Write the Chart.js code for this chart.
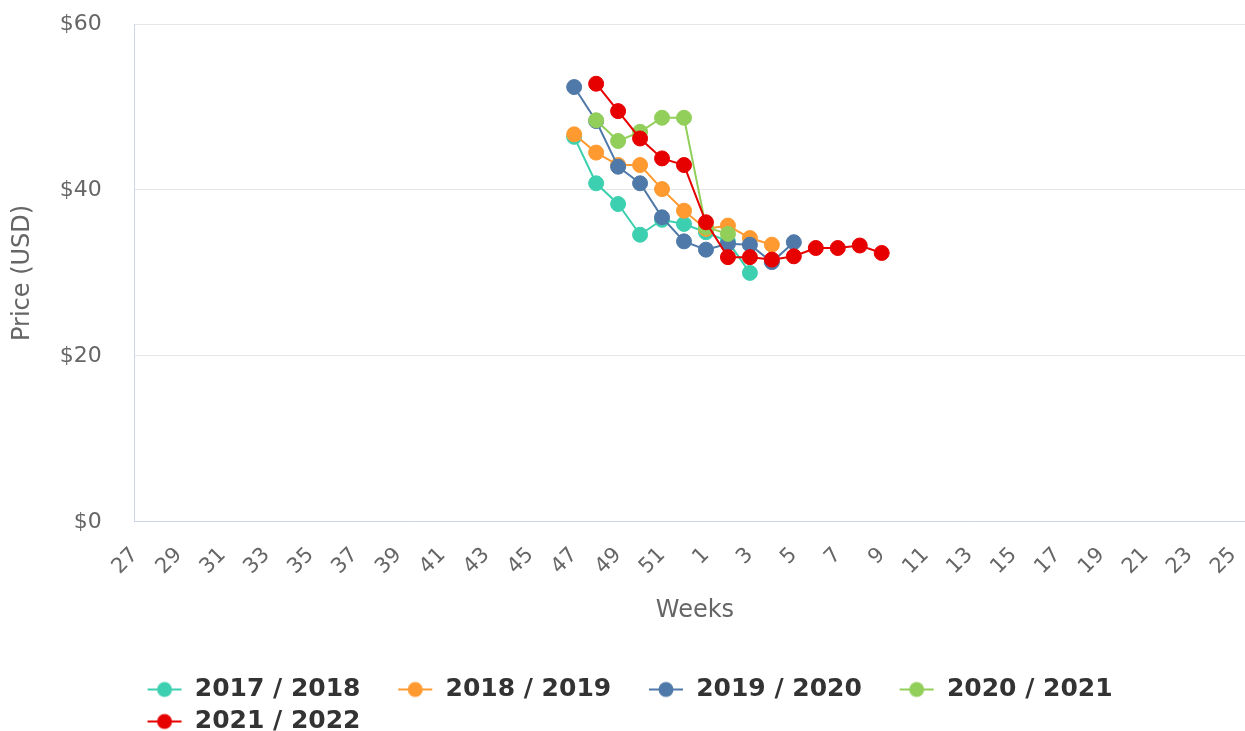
<!DOCTYPE html>
<html>
<head>
<meta charset="utf-8">
<script src="https://cdn.jsdelivr.net/npm/chart.js@4.4.1/dist/chart.umd.min.js"></script>
<style>
  html, body { margin: 0; padding: 0; width: 1245px; height: 731px; overflow: hidden; background: #ffffff; }
  #wrap { position: relative; width: 1286px; height: 744px; }
</style>
</head>
<body>
<div id="wrap"><canvas id="c"></canvas></div>
<script>
// Week categories (season runs from week 27 to week 26 of the next year)
const weeks = ['27','28','29','30','31','32','33','34','35','36','37','38','39','40','41','42','43','44','45','46','47','48','49','50','51','52',
               '1','2','3','4','5','6','7','8','9','10','11','12','13','14','15','16','17','18','19','20','21','22','23','24','25','26'];

const seasonNames = ['2017 / 2018', '2018 / 2019', '2019 / 2020', '2020 / 2021', '2021 / 2022'];
const seasonColors = ['#3dd0b0', '#ff9a30', '#4f79a8', '#92cf5a', '#e60000'];
const seasonFirstWeek = ['47', '47', '47', '48', '48'];

// Prices (USD) by week, starting from the first week of each season
const price2017 = [46.4, 40.8, 38.3, 34.6, 36.4, 35.9, 34.9, 33.8, 30.0];
const price2018 = [46.7, 44.5, 43.0, 43.0, 40.1, 37.5, 35.3, 35.7, 34.2, 33.4];
const price2019 = [52.4, 48.3, 42.8, 40.8, 36.7, 33.8, 32.8, 33.5, 33.4, 31.3, 33.7];
const price2020 = [48.4, 45.9, 47.0, 48.7, 48.7, 35.5, 34.7];
const price2021 = [52.8, 49.5, 46.2, 43.8, 43.0, 36.1, 31.9, 31.9, 31.6, 32.0, 33.0, 33.0, 33.3, 32.4];

const seasonPrices = [price2017, price2018, price2019, price2020, price2021];

function toSeries(first, vals) {
  const start = weeks.indexOf(first);
  return weeks.map((w, i) => (i >= start && i - start < vals.length) ? vals[i - start] : null);
}

function legendMarker(color) {
  const c = document.createElement('canvas');
  c.width = 41; c.height = 18;
  const g = c.getContext('2d');
  g.strokeStyle = color; g.lineWidth = 2;
  g.beginPath(); g.moveTo(6, 9); g.lineTo(40, 9); g.stroke();
  g.fillStyle = color;
  g.beginPath(); g.arc(23, 9, 7.5, 0, Math.PI * 2); g.fill();
  return c;
}

const datasets = seasonNames.map((name, i) => ({
  label: name,
  data: toSeries(seasonFirstWeek[i], seasonPrices[i]),
  borderColor: seasonColors[i],
  backgroundColor: seasonColors[i],
  pointBackgroundColor: seasonColors[i],
  pointBorderColor: seasonColors[i],
  pointRadius: 7.5,
  pointBorderWidth: 1,
  borderWidth: 2,
  tension: 0,
  spanGaps: false,
  order: seasonNames.length - i
}));

const FONT = "'DejaVu Sans', Verdana, sans-serif";

new Chart(document.getElementById('c'), {
  type: 'line',
  data: { labels: weeks, datasets },
  options: {
    responsive: true,
    maintainAspectRatio: false,
    animation: false,
    devicePixelRatio: 1,
    layout: { padding: { top: 24, left: 0, right: 0, bottom: 0 } },
    plugins: {
      tooltip: { enabled: false },
      legend: {
        position: 'bottom',
        align: 'start',
        fullSize: false,
        labels: {
          usePointStyle: true,
          pointStyleWidth: 40.5,
          padding: 7,
          color: '#333333',
          font: { family: FONT, size: 25, weight: 'bold' },
          generateLabels: (chart) => chart.data.datasets.map((ds, i) => ({
            text: ds.label + '\u2003',
            fillStyle: ds.borderColor,
            strokeStyle: ds.borderColor,
            lineWidth: 0,
            pointStyle: legendMarker(ds.borderColor),
            fontColor: '#333333',
            hidden: false,
            datasetIndex: i
          }))
        }
      }
    },
    scales: {
      x: {
        grid: { display: false },
        border: { display: true, color: '#ccd6eb', width: 1 },
        ticks: {
          autoSkip: false,
          minRotation: 45,
          maxRotation: 45,
          padding: 13,
          color: '#666666',
          font: { family: FONT, size: 21 },
          callback: (v, i) => (i % 2 === 0 ? weeks[i] : '')
        },
        title: {
          display: true,
          text: 'Weeks',
          color: '#666666',
          font: { family: FONT, size: 24 },
          padding: { top: 3.6, bottom: 45.1 }
        }
      },
      y: {
        min: 0,
        max: 60,
        grid: { color: '#e6e6e6', drawTicks: true, tickLength: 33, tickColor: 'rgba(0,0,0,0)' },
        border: { display: true, color: '#ccd6eb', width: 1 },
        ticks: {
          stepSize: 20,
          padding: 0,
          color: '#666666',
          font: { family: FONT, size: 22 },
          callback: (v) => '$' + v
        },
        title: {
          display: true,
          text: 'Price (USD)',
          color: '#666666',
          font: { family: FONT, size: 24 },
          padding: { top: 8, bottom: 23 }
        }
      }
    }
  }
});
</script>
</body>
</html>
